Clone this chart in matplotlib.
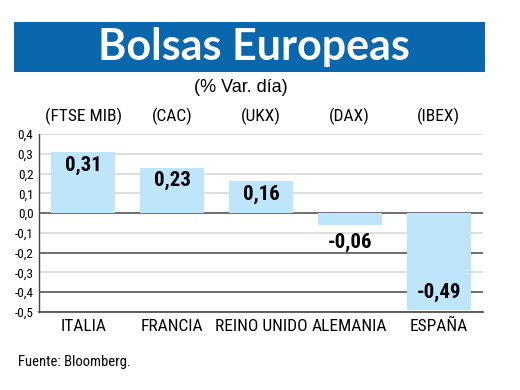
import matplotlib
matplotlib.use('Agg')
import matplotlib.pyplot as plt
import matplotlib.transforms as mtransforms
from matplotlib.patches import Rectangle

countries = ['ITALIA', 'FRANCIA', 'REINO UNIDO', 'ALEMANIA', 'ESPAÑA']
indices = ['(FTSE MIB)', '(CAC)', '(UKX)', '(DAX)', '(IBEX)']
changes = [0.31, 0.23, 0.16, -0.06, -0.49]
yticks = [0.4, 0.3, 0.2, 0.1, 0.0, -0.1, -0.2, -0.3, -0.4, -0.5]

narrow = ['Roboto Condensed', 'DejaVu Sans']

fig = plt.figure(figsize=(5.2, 3.9), dpi=100)

# blue banner with title
fig.patches.append(Rectangle((14/520, 1-72/390), 471/520, 50/390, transform=fig.transFigure,
                             facecolor='#0A67AD', edgecolor='none', zorder=0))
fig.text(0.488, 1-47/390, 'Bolsas Europeas', color='white', fontsize=31, fontweight='bold',
         family='Lato', ha='center', va='center')
fig.text(0.463, 1-87/390, '(% Var. día)', fontsize=13, family='Liberation Sans', ha='center', va='center')
fig.text(18/520, 1-362/390, 'Fuente: Bloomberg.', fontsize=10.5, family=narrow, ha='left', va='center')

ax = fig.add_axes([39/520, 1-312/390, 444/520, 178/390])
x = range(len(countries))
ax.bar(x, changes, width=0.72, color='#BEE5FA', zorder=2)

# grid: darker lines at 0, -0.2 and -0.4
for y in yticks:
    dark = y in (0.0, -0.2, -0.4)
    ax.axhline(y, color='#555555' if dark else '#D8D8D8', lw=1.2, zorder=1)

ax.set_xlim(-0.5, 4.5)
ax.set_ylim(-0.5, 0.4)
ax.set_yticks(yticks)
ax.set_yticklabels([f'{t:.1f}'.replace('.', ',') for t in yticks], family=narrow, fontsize=9.5)
ax.set_xticks(list(x))
ax.set_xticklabels(countries, family=narrow, fontsize=12.5)
ax.tick_params(axis='y', length=0, pad=4)
ax.tick_params(axis='x', length=0, pad=5)
for s in ['top', 'right']:
    ax.spines[s].set_visible(False)
ax.spines['left'].set_color('#444444')
ax.spines['bottom'].set_color('#444444')
ax.spines['left'].set_linewidth(1.0)
ax.spines['bottom'].set_linewidth(1.2)

trans = mtransforms.blended_transform_factory(ax.transData, ax.transAxes)
for i, lab in enumerate(indices):
    ax.text(i, 1.10, lab, transform=trans, ha='center', va='center', family=narrow, fontsize=12.5)

for i, v in enumerate(changes):
    lab = f'{v:.2f}'.replace('.', ',')
    if v >= 0:
        yy = v - 0.067
    elif v > -0.2:
        yy = v - 0.086
    else:
        yy = v + 0.09
    ax.text(i, yy, lab, ha='center', va='center', fontsize=15, fontweight='bold', family=narrow, zorder=3)

fig.savefig('out.png', dpi=100)
